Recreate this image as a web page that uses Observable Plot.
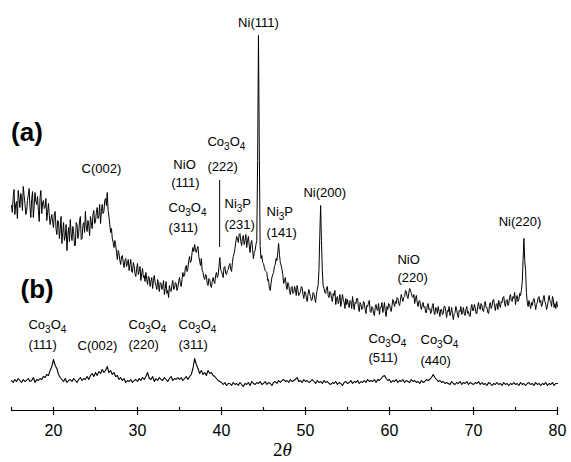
<!DOCTYPE html>
<html><head><meta charset="utf-8">
<script src="https://cdn.jsdelivr.net/npm/d3@7"></script>
<script src="https://cdn.jsdelivr.net/npm/@observablehq/plot@0.6"></script>
<style>body{margin:0;background:#fff}</style>
</head><body><div id="chart"></div>
<script>
// 2θ grids of the scans
const start = 15, stepA = 0.1, stepB = 0.2;
// (a) intensity (arb. units), one value per 0.1° from 15° to 80° (one row per degree)
const seriesA = [
205,198,213,221,196,206,209,192,220,212,
203,217,214,200,224,215,207,196,199,210,
216,222,204,193,211,219,193,205,218,209,
206,214,200,189,213,220,197,208,210,202,
203,212,190,198,207,195,186,192,196,188,
183,197,199,182,176,190,189,172,181,194,
167,178,188,170,174,186,160,175,183,169,
191,177,170,184,179,165,165,188,186,172,
177,190,194,171,172,185,188,178,199,184,
179,190,185,175,194,188,182,196,200,187,
189,198,203,192,195,206,187,199,206,197,
199,210,212,205,218,200,194,186,178,182,
172,168,163,170,166,158,151,160,157,150,
146,154,155,148,143,150,152,144,147,151,
140,146,151,139,138,148,145,137,134,142,
147,136,139,144,130,137,142,133,135,129,
138,131,126,134,133,124,129,133,122,130,
135,128,125,121,131,126,119,128,127,121,
124,130,116,122,129,117,120,113,125,120,
119,126,130,121,122,128,127,120,123,129,
133,127,124,131,138,134,135,143,145,139,
142,150,154,148,150,158,163,159,166,161,
158,162,164,154,149,145,152,140,138,133,
131,136,135,127,125,132,131,125,123,129,
133,129,127,135,138,133,135,144,153,141,
139,136,133,143,144,137,136,140,141,145,
147,141,139,148,154,157,162,168,174,172,
168,176,177,169,165,173,175,166,170,176,
163,170,174,165,158,167,170,161,152,158,
160,166,170,250,375,262,165,152,155,148,
147,143,140,139,138,130,131,122,120,127,
133,136,138,144,146,152,150,158,167,156,
148,145,141,136,127,130,133,125,121,128,
126,119,116,123,124,117,118,124,121,115,
125,120,115,117,119,124,123,116,112,119,
118,113,109,116,121,117,114,110,111,118,
117,112,108,116,121,125,140,175,205,170,
140,125,122,118,117,123,124,115,113,119,
118,112,109,117,115,120,106,112,114,107,
110,116,104,109,116,111,108,102,112,106,
111,106,103,110,109,102,114,107,101,108,
107,112,112,103,99,108,106,101,102,109,
108,101,97,105,104,108,110,99,98,104,
103,97,95,103,106,101,100,107,96,103,
103,108,98,102,108,99,94,104,101,107,
106,102,99,105,111,108,104,109,107,113,
112,107,105,110,116,112,109,113,114,120,
119,114,112,118,122,120,117,114,113,116,
107,112,115,108,104,109,110,104,101,106,
108,103,104,98,98,105,107,101,102,97,
99,105,107,98,96,103,102,97,104,99,
94,101,101,96,97,104,104,99,93,100,
99,104,95,98,103,96,91,97,98,104,
101,95,93,100,99,104,96,98,103,97,
95,101,104,97,99,95,94,102,106,100,
100,106,103,97,97,104,108,102,101,107,
105,100,99,106,109,103,103,98,97,105,
108,102,104,110,111,105,100,106,107,101,
110,106,103,109,108,113,114,107,104,110,
111,105,107,113,116,110,109,114,112,118,
106,112,115,109,111,117,115,120,128,150,
172,150,140,118,108,104,110,106,102,108,
105,110,112,107,101,106,108,113,114,108,
110,104,106,112,115,109,106,101,104,110,
115,110,108,104,114,111,103,107,102,109,
104
];
// (b) intensity (arb. units, offset trace), one value per 0.2°
const seriesB = [
30,28,31,29,32,30,28,31,29,30,
32,29,30,33,28,31,30,32,31,34,
33,36,35,40,44,51,45,42,36,33,
31,29,32,28,30,31,29,32,30,28,
31,33,30,32,31,34,31,35,37,34,
38,35,39,37,41,38,40,44,38,40,
36,38,34,35,31,33,30,32,28,30,
29,31,28,30,31,29,32,30,33,31,
34,38,32,31,34,29,32,30,33,31,
30,33,31,29,32,34,30,32,31,33,
31,33,30,32,34,31,34,36,42,52,
46,42,37,40,36,38,35,40,37,38,
35,34,32,30,29,28,26,28,25,27,
27,25,28,26,27,25,28,26,24,27,
26,28,25,29,27,26,28,27,29,26,
27,29,26,28,27,25,28,29,27,30,
28,30,31,29,30,28,31,29,30,31,
33,29,30,28,31,29,30,28,29,31,
29,27,30,28,29,27,30,28,29,27,
26,28,27,29,26,28,27,25,28,29,
27,28,30,27,29,28,30,27,29,28,
30,28,31,29,30,29,31,28,31,30,
32,34,35,32,30,31,28,30,29,31,
28,30,29,31,28,30,29,28,31,29,
30,28,29,27,30,28,29,31,30,31,
33,36,33,31,29,30,28,29,27,28,
27,26,29,27,26,28,27,29,26,28,
27,29,26,28,27,26,28,27,29,26,
28,26,27,25,28,27,25,27,26,28,
26,27,25,28,26,27,25,27,26,28,
26,27,25,28,26,27,25,27,28,26,
27,25,28,26,27,25,27,26,28,25,
27,26,28,25,27,27
];
const majorTicks = [20, 30, 40, 50, 60, 70, 80];
const minorTicks = [15, 25, 35, 45, 55, 65, 75];
const xLabel = "2θ";
// peak annotations centred on their peak
const centredLabels = [
  {t: "Ni(111)", x: 44.4, y: 384},
  {t: "C(002)", x: 25.7, y: 238},
  {t: "NiO", x: 35.6, y: 242},
  {t: "(111)", x: 35.7, y: 224}
];
// peak annotations aligned on their left edge
const leftLabels = [
  {t: "Co3O4", x: 33.7, y: 199},
  {t: "(311)", x: 33.7, y: 179},
  {t: "Co3O4", x: 38.33, y: 265},
  {t: "(222)", x: 38.33, y: 240},
  {t: "Ni3P", x: 40.36, y: 203},
  {t: "(231)", x: 40.36, y: 182},
  {t: "Ni3P", x: 45.36, y: 195},
  {t: "(141)", x: 45.36, y: 174},
  {t: "Ni(200)", x: 49.76, y: 214},
  {t: "NiO", x: 60.95, y: 147},
  {t: "(220)", x: 60.95, y: 129},
  {t: "Ni(220)", x: 73.0, y: 185},
  {t: "Co3O4", x: 17.02, y: 82},
  {t: "(111)", x: 17.02, y: 62},
  {t: "C(002)", x: 22.86, y: 61},
  {t: "Co3O4", x: 28.93, y: 82},
  {t: "(220)", x: 28.93, y: 62},
  {t: "Co3O4", x: 34.88, y: 82},
  {t: "(311)", x: 34.88, y: 62},
  {t: "Co3O4", x: 57.5, y: 68},
  {t: "(511)", x: 57.5, y: 49},
  {t: "Co3O4", x: 63.69, y: 67},
  {t: "(440)", x: 63.69, y: 46}
];
const panelLabels = [
  {t: "(a)", x: 14.95, y: 270},
  {t: "(b)", x: 16.07, y: 113}
];
const markerLines = [{x: 39.78, y1: 163, y2: 230}];

const tableA = seriesA.map((v, i) => ({x: start + i * stepA, y: v}));
const tableB = seriesB.map((v, i) => ({x: start + i * stepB, y: v}));

const svg = Plot.plot({
  width: 571, height: 462,
  marginLeft: 11, marginRight: 14, marginTop: 0, marginBottom: 52,
  style: {fontFamily: "'Liberation Sans', Arial, Helvetica, sans-serif", background: "#fff", color: "#000", overflow: "visible"},
  x: {domain: [15, 80]},
  y: {domain: [0, 410], axis: null},
  marks: [
    Plot.ruleY([0], {stroke: "#000", strokeWidth: 1.2}),
    Plot.axisX({ticks: majorTicks, tickSize: 5, tickPadding: 9, fontSize: 16, label: null, tickFormat: d => String(d), stroke: "#000", strokeWidth: 1.2}),
    Plot.ruleX(minorTicks.concat(majorTicks), {x: d => d, y1: 0, y2: 3, stroke: "#000", strokeWidth: 1.2}),
    Plot.text([xLabel], {x: 47.26, y: -45, text: d => d, fontSize: 19, fontFamily: "'Liberation Serif', 'Times New Roman', serif", lineAnchor: "bottom", fill: "#000"}),
    Plot.line(tableA, {x: "x", y: "y", stroke: "#000", strokeWidth: 1}),
    Plot.line(tableB, {x: "x", y: "y", stroke: "#000", strokeWidth: 1.1}),
    Plot.ruleX(markerLines, {x: "x", y1: "y1", y2: "y2", stroke: "#000", strokeWidth: 1}),
    Plot.text(centredLabels, {x: "x", y: "y", text: "t", textAnchor: "middle", lineAnchor: "bottom", fontSize: 13, fill: "#000"}),
    Plot.text(leftLabels, {x: "x", y: "y", text: "t", textAnchor: "start", lineAnchor: "bottom", fontSize: 13, fill: "#000"}),
    Plot.text(panelLabels, {x: "x", y: "y", text: "t", textAnchor: "start", lineAnchor: "bottom", fontSize: 26, fontWeight: "bold", fill: "#000"})
  ]
});

// subscripts and italic theta
const NS = "http://www.w3.org/2000/svg";
svg.querySelectorAll("text").forEach(t => {
  const s = t.textContent;
  if (/^(Co3O4|Ni3P)$/.test(s)) {
    t.textContent = "";
    let low = false;
    s.match(/[A-Za-z]+|\d+/g).forEach(p => {
      const ts = document.createElementNS(NS, "tspan");
      ts.textContent = p;
      if (/\d/.test(p)) { ts.setAttribute("dy", "4"); ts.setAttribute("font-size", "10"); low = true; }
      else if (low) { ts.setAttribute("dy", "-4"); low = false; }
      t.appendChild(ts);
    });
  } else if (s === "2θ") {
    t.textContent = "2";
    const ts = document.createElementNS(NS, "tspan");
    ts.textContent = "θ";
    ts.setAttribute("font-style", "italic");
    t.appendChild(ts);
  }
});
document.getElementById("chart").appendChild(svg);
</script>
</body></html>
